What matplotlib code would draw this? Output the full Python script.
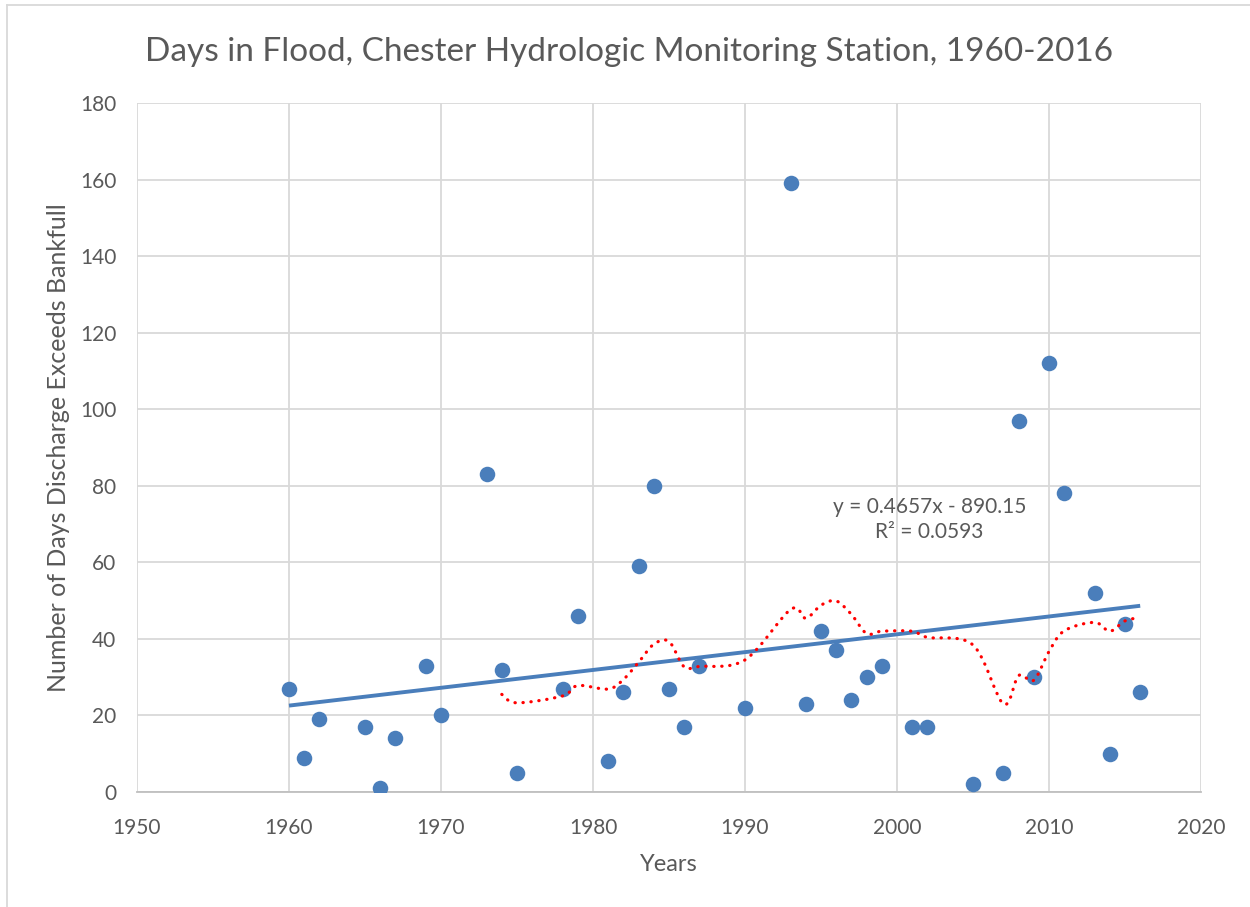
import numpy as np
import matplotlib.pyplot as plt
from matplotlib.path import Path
from matplotlib.patches import PathPatch

plt.rcParams['font.family'] = ['Lato', 'DejaVu Sans']

years = [1960, 1961, 1962, 1965, 1966, 1967, 1969, 1970, 1973, 1974, 1975,
         1978, 1979, 1981, 1982, 1983, 1984, 1985, 1986, 1987, 1990, 1993,
         1994, 1995, 1996, 1997, 1998, 1999, 2001, 2002, 2005, 2007, 2008,
         2009, 2010, 2011, 2013, 2014, 2015, 2016]
days = [27, 9, 19, 17, 1, 14, 33, 20, 83, 32, 5,
        27, 46, 8, 26, 59, 80, 27, 17, 33, 22, 159,
        23, 42, 37, 24, 30, 33, 17, 17, 2, 5, 97,
        30, 112, 78, 52, 10, 44, 26]
ma_period = 10

x = np.array(years, dtype=float)
y = np.array(days, dtype=float)

# linear trend
slope, icpt = np.polyfit(x, y, 1)
# 10-period moving average (Excel style, first value at 10th point)
ma = np.convolve(y, np.ones(ma_period) / ma_period, mode='valid')
ma_x = x[ma_period - 1:]


def smooth_path(px, py, t=1 / 6):
    # Catmull-Rom style bezier through points, like Excel's smoothed line
    pts = np.column_stack([px, py])
    verts = [pts[0]]
    codes = [Path.MOVETO]
    n = len(pts)
    for i in range(n - 1):
        p0 = pts[i - 1] if i > 0 else pts[i]
        p1 = pts[i]
        p2 = pts[i + 1]
        p3 = pts[i + 2] if i + 2 < n else pts[i + 1]
        c1 = p1 + (p2 - p0) * t
        c2 = p2 - (p3 - p1) * t
        verts += [c1, c2, p2]
        codes += [Path.CURVE4] * 3
    return Path(verts, codes)


fig = plt.figure(figsize=(12.5, 9.07), dpi=100)
ax = fig.add_axes([0.1096, 0.1268, 0.8512, 0.7596])

ax.scatter(x, y, s=125, color='#4a7ebb', zorder=3, linewidths=0)
xl = np.array([x.min(), x.max()])
ax.plot(xl, slope * xl + icpt, color='#4a7ebb', linewidth=2.8, zorder=4,
        solid_capstyle='butt')

patch = PathPatch(smooth_path(ma_x, ma), facecolor='none', edgecolor='#ff0000',
                  linewidth=2.3, linestyle=(0, (0.1, 2.4)), capstyle='round',
                  zorder=5)
ax.add_patch(patch)

ax.set_xlim(1950, 2020)
ax.set_ylim(0, 180)
ax.set_xticks(np.arange(1950, 2021, 10))
ax.set_yticks(np.arange(0, 181, 20))
ax.grid(True, color='#d9d9d9', linewidth=1.3)
ax.set_axisbelow(True)
for s in ['top', 'right', 'left']:
    ax.spines[s].set_visible(False)
ax.spines['bottom'].set_color('#bfbfbf')
ax.spines['bottom'].set_linewidth(1.3)
ax.tick_params(length=0, labelsize=15, colors='#595959')
ax.tick_params(axis='x', pad=19)
ax.tick_params(axis='y', pad=15)

fig.text(0.503, 0.943, 'Days in Flood, Chester Hydrologic Monitoring Station, 1960-2016',
         ha='center', va='center', fontsize=24, color='#595959')
ax.set_xlabel('Years', fontsize=17, color='#595959', labelpad=11)
ax.set_ylabel('Number of Days Discharge Exceeds Bankfull', fontsize=18,
              color='#595959', labelpad=7)

ax.text(0.745, 0.395, 'y = 0.4657x - 890.15\nR² = 0.0593', transform=ax.transAxes,
        ha='center', va='center', fontsize=15, color='#595959', linespacing=1.3)

# chart border
fig.add_artist(plt.Line2D([0.0056, 0.0056], [0, 0.9945], color='#d9d9d9',
                          linewidth=1.3, transform=fig.transFigure))
fig.add_artist(plt.Line2D([0.0056, 1], [0.9945, 0.9945], color='#d9d9d9',
                          linewidth=1.3, transform=fig.transFigure))

fig.savefig('out.png', dpi=100)
